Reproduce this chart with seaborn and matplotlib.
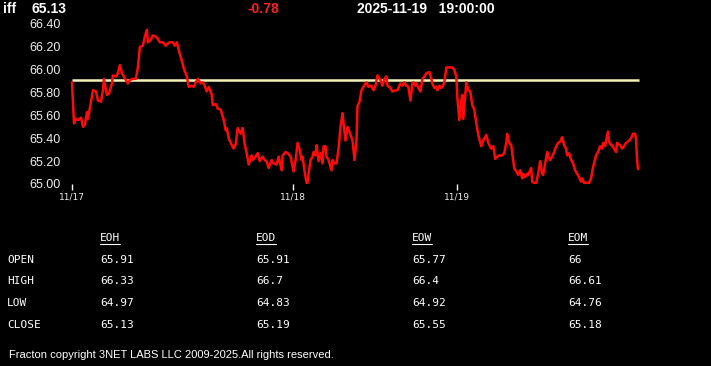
import matplotlib
matplotlib.use('Agg')
import pandas as pd
import seaborn as sns
import matplotlib.pyplot as plt
from matplotlib.lines import Line2D

# header values
symbol = 'iff'
last_price = 65.13
change = -0.78
stamp_date = '2025-11-19'
stamp_time = '19:00:00'
ref_level = 65.91

# price trace (bar number, price)
bars = [0, 2, 4, 6, 9, 11, 13, 15, 16, 19, 21, 24, 26, 29, 31, 32, 34, 35, 37, 40,
        41, 44, 46, 48, 50, 52, 54, 56, 58, 61, 64, 66, 68, 71, 73, 75, 76, 79, 81, 84,
        86, 88, 91, 94, 96, 98, 101, 103, 105, 107, 110, 112, 115, 117, 120, 122, 124, 126, 129, 131,
        133, 135, 137, 140, 141, 144, 146, 149, 151, 152, 154, 155, 157, 160, 162, 164, 166, 169, 171, 173,
        175, 177, 180, 181, 184, 186, 188, 191, 193, 195, 197, 200, 202, 205, 207, 210, 211, 214, 216, 219,
        221, 222, 224, 226, 228, 230, 231, 233, 235, 236, 237, 239, 241, 242, 244, 245, 247, 249, 251, 252,
        254, 255, 257, 260, 261, 263, 265, 267, 269, 271, 272, 274, 276, 279, 281, 283, 285, 286, 288, 290,
        292, 294, 295, 297, 300, 302, 304, 306, 309, 311, 313, 315, 316, 319, 321, 324, 326, 329, 331, 333,
        335, 337, 339, 341, 342, 344, 345, 347, 349, 351, 353, 355, 358, 360, 361, 363, 365, 366, 368, 370,
        371, 373, 375, 377, 381, 383, 385, 386, 388, 390, 391, 392, 394, 395, 397, 399, 401, 403, 405, 407,
        410, 412, 415, 417, 420, 422, 424, 426, 428, 431, 433, 435, 436, 438, 440, 441, 443, 445, 447, 449,
        451, 452, 454, 456, 457, 460, 461, 463, 465, 467, 469, 471, 472, 474, 476, 477, 479, 481, 483, 485,
        487, 489, 491, 493, 495, 496, 498, 500, 502, 504, 506, 508, 510, 511, 513, 515, 518, 520, 522, 525,
        527, 529, 531, 532, 534, 535, 537, 538, 540, 541, 543, 545, 546, 549, 551, 553, 555, 557, 560, 562,
        564, 565, 566, 567]
prices = [65.89, 65.53, 65.57, 65.56, 65.58, 65.50, 65.52, 65.63, 65.57, 65.72, 65.82, 65.81, 65.73, 65.72, 65.82, 65.92, 65.82, 65.78, 65.79, 65.88,
          65.95, 65.94, 65.97, 66.04, 65.97, 65.94, 65.91, 65.88, 65.91, 65.92, 65.92, 66.02, 66.20, 66.21, 66.29, 66.35, 66.24, 66.26, 66.30, 66.29,
          66.27, 66.24, 66.24, 66.21, 66.23, 66.24, 66.24, 66.21, 66.24, 66.17, 66.08, 66.01, 65.94, 65.85, 65.86, 65.85, 65.89, 65.92, 65.88, 65.89,
          65.86, 65.81, 65.85, 65.78, 65.69, 65.70, 65.66, 65.65, 65.59, 65.56, 65.47, 65.49, 65.40, 65.34, 65.31, 65.35, 65.49, 65.44, 65.49, 65.35,
          65.27, 65.17, 65.25, 65.21, 65.24, 65.27, 65.20, 65.24, 65.21, 65.20, 65.14, 65.21, 65.18, 65.17, 65.24, 65.12, 65.25, 65.28, 65.27, 65.24,
          65.15, 65.11, 65.21, 65.36, 65.30, 65.21, 65.24, 65.11, 65.01, 65.01, 65.09, 65.21, 65.24, 65.28, 65.25, 65.34, 65.20, 65.27, 65.18, 65.33,
          65.33, 65.24, 65.21, 65.12, 65.21, 65.18, 65.18, 65.31, 65.50, 65.62, 65.53, 65.38, 65.50, 65.43, 65.38, 65.21, 65.38, 65.68, 65.72, 65.82,
          65.85, 65.88, 65.89, 65.85, 65.86, 65.82, 65.86, 65.95, 65.91, 65.86, 65.92, 65.94, 65.86, 65.84, 65.81, 65.82, 65.82, 65.88, 65.86, 65.89,
          65.86, 65.85, 65.73, 65.88, 65.89, 65.86, 65.88, 65.84, 65.81, 65.92, 65.94, 65.97, 65.98, 65.92, 65.88, 65.84, 65.85, 65.82, 65.86, 65.84,
          65.85, 65.89, 66.02, 66.02, 66.02, 66.00, 65.94, 65.76, 65.56, 65.73, 65.78, 65.57, 65.79, 65.89, 65.82, 65.81, 65.69, 65.65, 65.53, 65.43,
          65.33, 65.38, 65.43, 65.36, 65.31, 65.33, 65.22, 65.24, 65.25, 65.25, 65.27, 65.36, 65.44, 65.36, 65.34, 65.27, 65.14, 65.11, 65.08, 65.12,
          65.05, 65.09, 65.06, 65.09, 65.08, 65.14, 65.02, 65.01, 65.01, 65.09, 65.20, 65.09, 65.08, 65.18, 65.28, 65.24, 65.21, 65.24, 65.28, 65.33,
          65.36, 65.37, 65.41, 65.34, 65.31, 65.25, 65.27, 65.21, 65.18, 65.12, 65.09, 65.06, 65.02, 65.05, 65.01, 65.01, 65.01, 65.05, 65.15, 65.25,
          65.28, 65.33, 65.31, 65.36, 65.33, 65.38, 65.46, 65.37, 65.34, 65.34, 65.31, 65.28, 65.36, 65.34, 65.31, 65.33, 65.36, 65.37, 65.40, 65.44,
          65.44, 65.40, 65.22, 65.13]

day_bars = [0, 221, 386]
day_labels = ['11/17', '11/18', '11/19']
y_ticks = [65.0, 65.2, 65.4, 65.6, 65.8, 66.0, 66.2, 66.4]

# summary table
periods = ['EOH', 'EOD', 'EOW', 'EOM']
fields = ['OPEN', 'HIGH', 'LOW', 'CLOSE']
opens = ['65.91', '65.91', '65.77', '66']
highs = ['66.33', '66.7', '66.4', '66.61']
lows = ['64.97', '64.83', '64.92', '64.76']
closes = ['65.13', '65.19', '65.55', '65.18']
footer = 'Fracton copyright 3NET LABS LLC 2009-2025.All rights reserved.'

sns.set_theme(style='dark', rc={'figure.facecolor': 'black', 'axes.facecolor': 'black',
                                'savefig.facecolor': 'black'})
plt.rcParams['font.family'] = ['Liberation Sans', 'DejaVu Sans']

W, H = 711, 366
fig = plt.figure(figsize=(W / 100, H / 100), dpi=100)


def fx(x):
    return x / W


def fy(y):
    return 1 - y / H


ax = fig.add_axes([fx(72), fy(184), (640 - 72) / W, 160 / H])
df = pd.DataFrame({'bar': bars, 'price': prices})
ax.hlines(ref_level, 0, 568, color='#f2f2b6', linewidth=1.8, zorder=1)
sns.lineplot(data=df, x='bar', y='price', color='#ff0a0a', linewidth=1.8,
             estimator=None, ax=ax, zorder=2)
ax.set_xlim(0, 569)
ax.set_ylim(65.0, 66.4)
for s in ax.spines.values():
    s.set_visible(False)
ax.grid(False)
ax.set_xlabel('')
ax.set_ylabel('')
ax.set_yticks(y_ticks)
ax.set_yticklabels(['%.2f' % v for v in y_ticks], fontsize=9, color='#eeeeee')
ax.tick_params(axis='y', length=0, pad=8)
ax.set_xticks(day_bars)
ax.set_xticklabels(day_labels, fontsize=6.5, color='#eeeeee', family='DejaVu Sans')
ax.tick_params(axis='x', length=4, width=1, color='white', pad=2, direction='out', bottom=True)
for line in ax.lines:
    line.set_clip_on(False)

# header
hdr = dict(fontsize=10, fontweight='bold', va='center', ha='left')
fig.text(fx(3), fy(9), symbol, color='white', **hdr)
fig.text(fx(32), fy(9), '%.2f' % last_price, color='white', **hdr)
fig.text(fx(247), fy(9), '%.2f' % change, color='#ff2020', **hdr)
fig.text(fx(357), fy(9), stamp_date + '   ' + stamp_time, color='white', **hdr)

# table
mono = dict(fontsize=8, family='DejaVu Sans Mono', color='white', va='center', ha='left')
col_x = [100, 256, 412, 568]
row_y = [260, 281, 303, 325]
for cx, name in zip(col_x, periods):
    fig.text(fx(cx), fy(238), name, **mono)
    fig.add_artist(Line2D([fx(cx), fx(cx + 20)], [fy(244), fy(244)],
                          color='white', linewidth=0.8, transform=fig.transFigure))
for ry, name in zip(row_y, fields):
    fig.text(fx(7), fy(ry), name, **mono)
for ry, vals in zip(row_y, [opens, highs, lows, closes]):
    for cx, v in zip(col_x, vals):
        fig.text(fx(cx), fy(ry), v, **mono)

fig.text(fx(9), fy(355), footer, fontsize=8, color='white', va='center', ha='left')

fig.savefig('out.png', dpi=100, facecolor='black')
